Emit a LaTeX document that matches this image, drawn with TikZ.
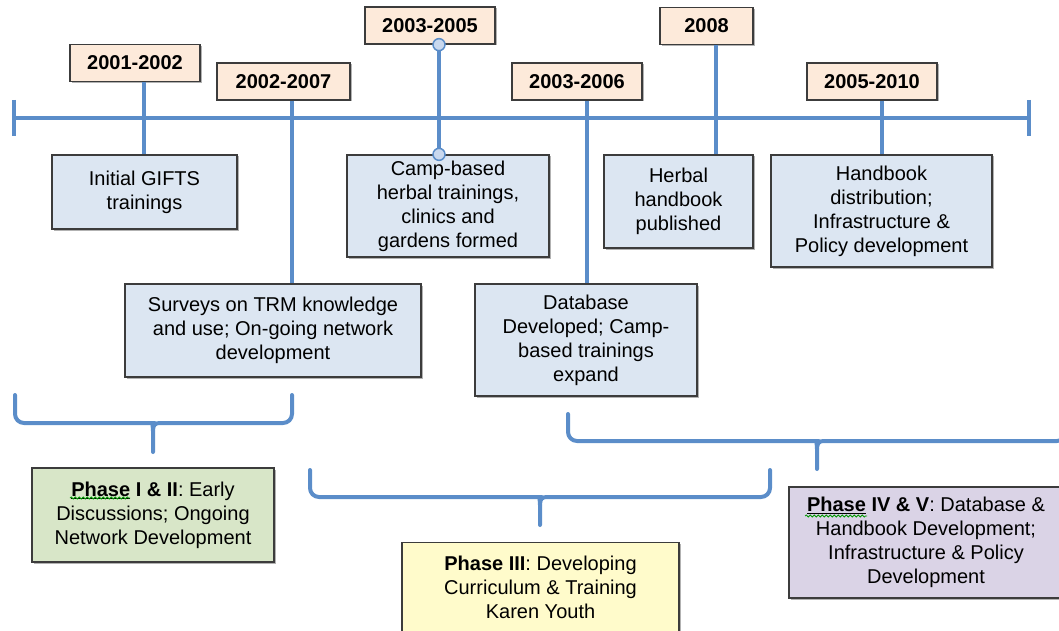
\documentclass[tikz,border=0pt]{standalone}
\usepackage{fontspec}
\setmainfont{Liberation Sans}
\usetikzlibrary{shadows,decorations.pathmorphing}
\definecolor{tlblue}{HTML}{5B8DC9}
\definecolor{circfill}{HTML}{C9D8EE}
\definecolor{yearfill}{HTML}{FDEADA}
\definecolor{evfill}{HTML}{DCE6F2}
\definecolor{pafill}{HTML}{D8E6C8}
\definecolor{pbfill}{HTML}{FFFBCB}
\definecolor{pcfill}{HTML}{DAD3E6}
\definecolor{boxline}{HTML}{3C3C3C}
\begin{document}
\begin{tikzpicture}[x=1pt,y=-1pt,
  box/.style={draw=boxline, line width=1.3pt, inner sep=0pt, align=center,
    font=\fontsize{20}{24}\selectfont,
    drop shadow={shadow xshift=1.5pt,shadow yshift=-1.5pt,opacity=0.3,fill=black}},
  yearbox/.style={box, fill=yearfill, font=\fontsize{20}{24}\selectfont\bfseries, minimum height=37pt},
  evbox/.style={box, fill=evfill},
  tl/.style={draw=tlblue, line width=4pt},
  brace/.style={draw=tlblue, line width=4pt, line cap=round, line join=round},
  marker/.style={circle, draw=tlblue, fill=circfill, line width=1.5pt, minimum size=12pt, inner sep=0pt},
  squig/.style={draw=green!60!black, line width=0.8pt, decorate,
    decoration={snake, segment length=4pt, amplitude=1pt}}
]
\useasboundingbox (0,0) rectangle (1059,631);
\clip (0,0) rectangle (1059,631);

% timeline
\coordinate (tlL) at (14,118);
\coordinate (tlR) at (1029,118);
\draw[tl] (tlL) -- (tlR);
\draw[tl] ([yshift=18pt]tlL) -- ([yshift=-18pt]tlL);
\draw[tl] ([yshift=18pt]tlR) -- ([yshift=-18pt]tlR);

% connector x positions
\coordinate (c1) at (144,0);
\coordinate (c2) at (292,0);
\coordinate (c3) at (439,0);
\coordinate (c4) at (587,0);
\coordinate (c5) at (716,0);
\coordinate (c6) at (882,0);

% year boxes
\node[yearbox, minimum width=130pt] (y1) at (135,63) {2001-2002};
\node[yearbox, minimum width=133pt] (y2) at (283.5,81.5) {2002-2007};
\node[yearbox, minimum width=130pt] (y3) at (430,25.5) {2003-2005};
\node[yearbox, minimum width=130pt] (y4) at (577,81.5) {2003-2006};
\node[yearbox, minimum width=93pt] (y5) at (706.5,26) {2008};
\node[yearbox, minimum width=130pt] (y6) at (872,81.5) {2005-2010};

% event boxes
\node[evbox, minimum width=185pt, minimum height=74pt] (e1) at (144.5,192) {Initial GIFTS\\trainings};
\node[evbox, minimum width=202pt, minimum height=102pt] (e2) at (448,206) {Camp-based\\herbal trainings,\\clinics and\\gardens formed};
\node[evbox, minimum width=149pt, minimum height=93pt] (e3) at (678.5,201.5) {Herbal\\handbook\\published};
\node[evbox, minimum width=221pt, minimum height=112pt] (e4) at (881.5,211) {Handbook\\distribution;\\Infrastructure \&\\Policy development};
\node[evbox, minimum width=296pt, minimum height=93pt] (e5) at (273,330.5) {Surveys on TRM knowledge\\and use; On-going network\\development};
\node[evbox, minimum width=222pt, minimum height=112pt] (e6) at (586,340) {Database\\Developed; Camp-\\based trainings\\expand};

% connectors
\draw[tl] (y1.south -| c1) -- (e1.north -| c1);
\draw[tl] (y2.south -| c2) -- (e5.north -| c2);
\draw[tl] (y3.south -| c3) -- (e2.north -| c3);
\draw[tl] (y4.south -| c4) -- (e6.north -| c4);
\draw[tl] (y5.south -| c5) -- (e3.north -| c5);
\draw[tl] (y6.south -| c6) -- (e4.north -| c6);
\node[marker] (k1) at (y3.south -| c3) {};
\node[marker] (k2) at (e2.north -| c3) {};

% braces
\draw[brace] (15,395) [rounded corners=9pt] -- (15,423) -- (146,423) [sharp corners]
  .. controls (151,423) and (153,425) .. (153,431) -- (153,452);
\draw[brace] (153,431) .. controls (153,425) and (155,423) .. (160,423)
  [rounded corners=9pt] -- (292,423) -- (292,395);

\draw[brace] (310,470) [rounded corners=9pt] -- (310,497) -- (533,497) [sharp corners]
  .. controls (538,497) and (540,499) .. (540,505) -- (540,525);
\draw[brace] (540,505) .. controls (540,499) and (542,497) .. (547,497)
  [rounded corners=9pt] -- (770,497) -- (770,470);

\draw[brace] (568,414) [rounded corners=9pt] -- (568,441) -- (810,441) [sharp corners]
  .. controls (815,441) and (817,443) .. (817,449) -- (817,469);
\draw[brace] (817,449) .. controls (817,443) and (819,441) .. (824,441)
  [rounded corners=9pt] -- (1066,441) -- (1066,414);

% phase boxes
\node[box, fill=pafill, minimum width=242pt, minimum height=94pt] (pa) at (153,515)
  {\underline{\textbf{Phase}}\textbf{ I \& II}: Early\\Discussions; Ongoing\\Network Development};
\node[box, fill=pbfill, minimum width=277pt, inner ysep=13pt, text depth=70pt, anchor=north] (pb) at (540.5,542)
  {\textbf{Phase III}: Developing\\Curriculum \& Training\\Karen Youth};
\node[box, fill=pcfill, minimum width=274pt, minimum height=111pt] (pc) at (926,542.5)
  {\underline{\textbf{Phase}}\textbf{ IV \& V}: Database \&\\Handbook Development;\\Infrastructure \& Policy\\Development};

% spell-check squiggles
\draw[squig] (70,498) -- (130,498);
\draw[squig] (805,516) -- (867,516);
\end{tikzpicture}
\end{document}
